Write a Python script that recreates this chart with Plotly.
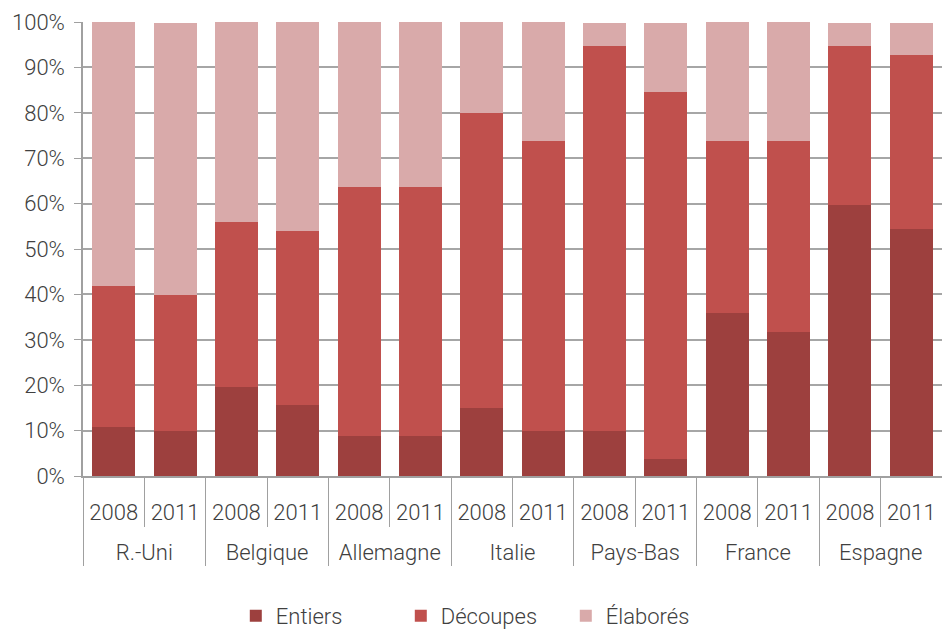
import plotly.graph_objects as go

countries = ["R.-Uni", "Belgique", "Allemagne", "Italie", "Pays-Bas", "France", "Espagne"]
years = ["2008", "2011"]
entiers = [10.8, 9.9, 19.7, 15.6, 8.8, 8.8, 15.0, 9.9, 9.9, 3.7, 35.9, 31.7, 59.7, 54.4]
decoupes = [31.1, 30.0, 36.3, 38.4, 54.9, 54.9, 65.0, 63.9, 84.8, 80.9, 37.9, 42.1, 35.0, 38.3]
elabores = [58.1, 59.8, 44.0, 46.0, 36.3, 36.3, 20.0, 26.2, 5.1, 15.2, 26.2, 26.2, 5.1, 7.1]

# display labels (country level pushed down one line to match the spacing)
x_country = ["<br>" + c for c in countries for _ in years]
x_year = [y for _ in countries for y in years]

FONT = "Roboto, sans-serif"
TXT = "#404040"
AX = "#A0A0A0"

fig = go.Figure()
for name, vals, col in [("Entiers", entiers, "#9D403E"),
                        ("Découpes", decoupes, "#C0504D"),
                        ("Élaborés", elabores, "#D9AAAA")]:
    fig.add_trace(go.Bar(x=[x_country, x_year], y=vals, name=name,
                         marker=dict(color=col, line=dict(width=0))))

fig.update_layout(
    barmode="stack",
    bargap=0.3,
    width=942, height=634,
    margin=dict(l=83, r=0, t=22, b=158, autoexpand=False),
    plot_bgcolor="white", paper_bgcolor="white",
    font=dict(family=FONT, size=22, color=TXT, weight=300),
    legend=dict(orientation="h", x=0.466, xanchor="center",
                y=-0.262, yanchor="top",
                font=dict(family=FONT, size=22, color=TXT, weight=300),
                itemwidth=30, traceorder="normal",
                entrywidth=120, entrywidthmode="pixels"),
    xaxis=dict(type="multicategory", showline=True, linecolor=AX, linewidth=1.5,
               ticks="outside", tickson="boundaries", ticklen=49, tickcolor=AX,
               showdividers=True, dividercolor=AX, dividerwidth=1,
               ticklabelstandoff=16, automargin=False,
               tickfont=dict(family=FONT, size=22, color=TXT, weight=300)),
    yaxis=dict(range=[0, 100], dtick=10, ticksuffix="%", showgrid=True,
               gridcolor="#A6A6A6", gridwidth=1.5, showline=True, linecolor=AX,
               linewidth=1.5, ticks="outside", ticklen=7, tickcolor=AX,
               automargin=False, ticklabelstandoff=5,
               tickfont=dict(family=FONT, size=22, color=TXT, weight=300), zeroline=False),
)

fig.write_html("out.html")
